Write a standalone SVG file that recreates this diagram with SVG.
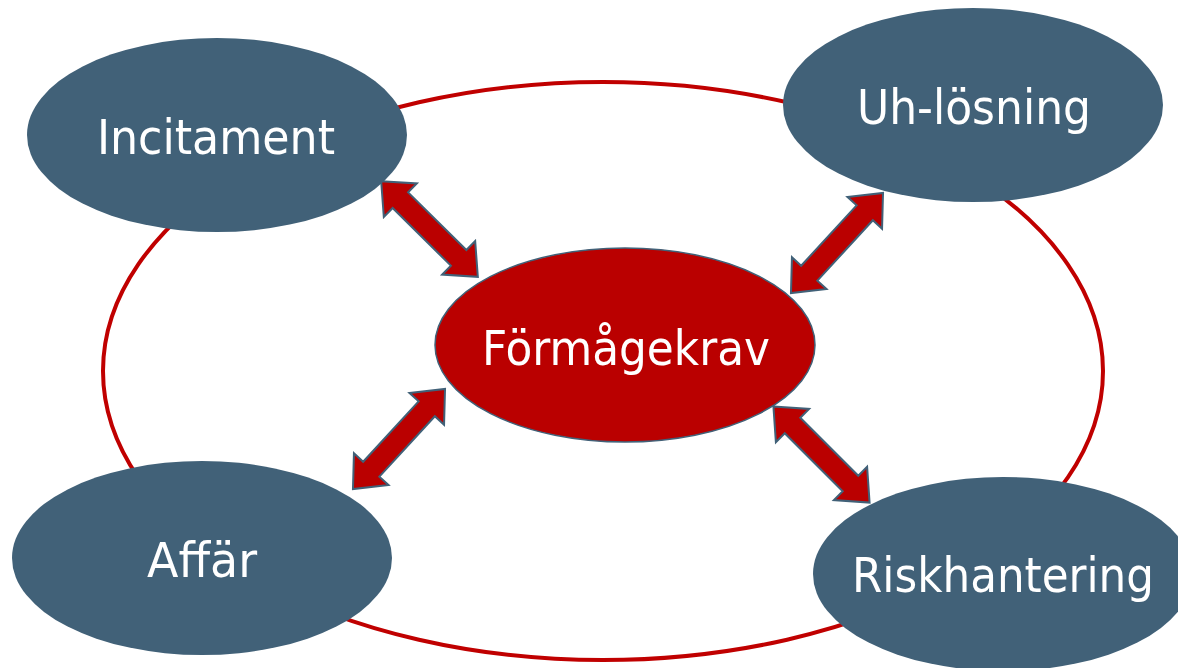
<svg xmlns="http://www.w3.org/2000/svg" width="1178" height="668" viewBox="0 0 1178 668">
  <style>
    .ring { fill: none; stroke: #C00000; stroke-width: 4; }
    .node { fill: #416178; }
    .core { fill: #BA0000; stroke: #416178; stroke-width: 1.5; }
    .label { fill: #FFFFFF; font-family: "DejaVu Sans Condensed", "DejaVu Sans", sans-serif; font-size: 48px; text-anchor: middle; }
    .arrow { fill: #BA0000; stroke: #416178; stroke-width: 2; stroke-linejoin: miter; }
  </style>
  <defs>
    <!-- double-headed block arrow, centred on the origin, pointing along x -->
    <path id="dblArrow" d="M -68,0 L -41,-23.5 L -41,-11 L 41,-11 L 41,-23.5 L 68,0 L 41,23.5 L 41,11 L -41,11 L -41,23.5 Z"/>
  </defs>

  <rect width="1178" height="668" fill="#FFFFFF"/>

  <!-- outer cycle ring -->
  <g id="ring">
    <ellipse class="ring" cx="603" cy="371" rx="500" ry="289"/>
  </g>

  <g id="node-incitament">
    <ellipse class="node" cx="217" cy="135" rx="190" ry="97"/>
    <text class="label" x="216" y="154" textLength="238" lengthAdjust="spacingAndGlyphs">Incitament</text>
  </g>

  <g id="node-uh-losning">
    <ellipse class="node" cx="973" cy="105" rx="190" ry="97"/>
    <text class="label" x="974" y="124" textLength="234" lengthAdjust="spacingAndGlyphs">Uh-lösning</text>
  </g>

  <g id="node-affar">
    <ellipse class="node" cx="202" cy="558" rx="190" ry="97"/>
    <text class="label" x="202" y="577" textLength="110" lengthAdjust="spacingAndGlyphs">Affär</text>
  </g>

  <g id="node-riskhantering">
    <ellipse class="node" cx="1003" cy="574" rx="190" ry="97"/>
    <text class="label" x="1003" y="592" textLength="302" lengthAdjust="spacingAndGlyphs">Riskhantering</text>
  </g>

  <g id="node-formagekrav">
    <ellipse class="core" cx="625" cy="345" rx="190" ry="97"/>
    <text class="label" x="626" y="365" textLength="288" lengthAdjust="spacingAndGlyphs">Förmågekrav</text>
  </g>

  <!-- two-way links between the core and each outer node -->
  <g id="connectors">
    <use href="#dblArrow" class="arrow" transform="translate(429.5,229) rotate(44.7)"/>
    <use href="#dblArrow" class="arrow" transform="translate(837,243) rotate(-47.4)"/>
    <use href="#dblArrow" class="arrow" transform="translate(399,439) rotate(-47.4)"/>
    <use href="#dblArrow" class="arrow" transform="translate(821.5,454.5) rotate(45)"/>
  </g>
</svg>
